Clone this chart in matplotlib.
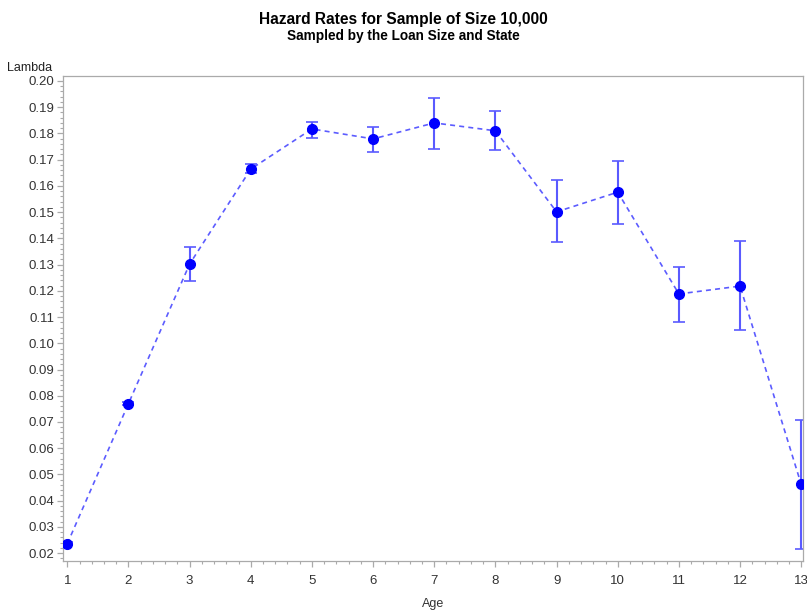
import matplotlib
matplotlib.use("Agg")
import matplotlib.pyplot as plt
import numpy as np
from matplotlib.ticker import MultipleLocator, FormatStrFormatter

plt.rcParams["font.family"] = ["Liberation Sans", "DejaVu Sans"]

age = [1, 2, 3, 4, 5, 6, 7, 8, 9, 10, 11, 12, 13]
lam = [0.0236, 0.0770, 0.1302, 0.1664, 0.1817, 0.1779, 0.1840, 0.1810,
       0.1501, 0.1576, 0.1188, 0.1218, 0.0462]
lam_lo = [0.0230, 0.0765, 0.1237, 0.1650, 0.1783, 0.1729, 0.1741, 0.1736,
          0.1385, 0.1455, 0.1082, 0.1050, 0.0214]
lam_hi = [0.0242, 0.0775, 0.1367, 0.1685, 0.1844, 0.1825, 0.1936, 0.1884,
          0.1622, 0.1695, 0.1292, 0.1390, 0.0707]

TXT = "#333333"
FRAME = "#aaaaaa"

fig = plt.figure(figsize=(8.07, 6.14), dpi=100)
ax = fig.add_axes([0.0781, 0.0863, 0.917, 0.790])

y = np.array(lam)
yerr = [y - np.array(lam_lo), np.array(lam_hi) - y]
ax.errorbar(age, lam, yerr=yerr, fmt="none", ecolor="#5a5aff",
            elinewidth=1.5, capsize=4, capthick=1.2, zorder=2)
ax.plot(age, lam, ls=(0, (3, 2.5)), color="#5c5cff", lw=1.2, zorder=3)
ax.plot(age, lam, "o", color="#0000ff", ms=7, zorder=4)

ax.set_xlim(0.93, 13.03)
ax.set_ylim(0.017, 0.2019)
ax.xaxis.set_major_locator(MultipleLocator(1))
ax.xaxis.set_minor_locator(MultipleLocator(0.2))
ax.yaxis.set_major_locator(MultipleLocator(0.01))
ax.yaxis.set_minor_locator(MultipleLocator(0.002))
ax.yaxis.set_major_formatter(FormatStrFormatter("%.2f"))

for s in ax.spines.values():
    s.set_color(FRAME)
    s.set_linewidth(0.9)
ax.tick_params(which="major", length=4, color=FRAME, labelsize=9.5,
               labelcolor=TXT, width=0.9)
ax.tick_params(which="minor", length=2.5, color=FRAME, width=0.8)
ax.tick_params(axis="x", pad=6)
ax.tick_params(axis="y", pad=2)

ax.set_xlabel("Age", fontsize=9, color=TXT, labelpad=8)
fig.text(0.037, 0.89, "Lambda", fontsize=9, color="#222222",
         ha="center", va="center")

fig.text(0.5, 0.968, "Hazard Rates for Sample of Size 10,000",
         fontsize=11.2, fontweight="bold", ha="center", va="center",
         color="black")
fig.text(0.5, 0.942, "Sampled by the Loan Size and State",
         fontsize=9.8, fontweight="bold", ha="center", va="center",
         color="black")

fig.savefig("out.png", dpi=100)
